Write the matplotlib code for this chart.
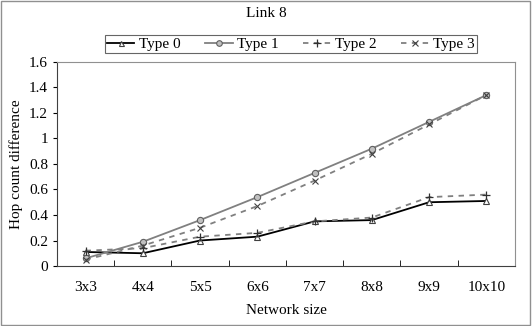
import matplotlib
matplotlib.use("Agg")
from matplotlib import pyplot as plt
from matplotlib.patches import Rectangle
import numpy as np

plt.rcParams['font.family'] = ['Liberation Serif', 'DejaVu Serif']

sizes = ["3x3", "4x4", "5x5", "6x6", "7x7", "8x8", "9x9", "10x10"]
type0 = [0.11, 0.10, 0.20, 0.23, 0.35, 0.36, 0.50, 0.51]
type1 = [0.06, 0.19, 0.36, 0.54, 0.73, 0.92, 1.13, 1.34]
type2 = [0.12, 0.14, 0.23, 0.26, 0.35, 0.38, 0.54, 0.56]
type3 = [0.05, 0.16, 0.30, 0.47, 0.67, 0.88, 1.11, 1.34]

fig = plt.figure(figsize=(5.32, 3.26), dpi=100)
ax = fig.add_axes([0.107, 0.184, 0.861, 0.626])

x = np.arange(len(sizes))
ax.plot(x, type0, color="black", lw=1.3, marker="^", ms=4, mfc="white", mec="#404040", mew=0.8, label="Type 0")
ax.plot(x, type1, color="#808080", lw=1.3, marker="o", ms=4.5, mfc="#c0c0c0", mec="#606060", mew=0.8, label="Type 1")
ax.plot(x, type2, color="#808080", lw=1.3, ls=(0, (3, 3)), marker="+", ms=6, mec="#303030", mew=0.9, label="Type 2")
ax.plot(x, type3, color="#808080", lw=1.3, ls=(0, (3, 3)), marker="x", ms=5, mec="#404040", mew=0.8, label="Type 3")

ax.set_xlim(-0.5, len(sizes) - 0.5)
ax.set_ylim(0, 1.6)
ax.set_yticks(np.arange(0, 1.61, 0.2))
ax.set_yticklabels(["0", "0.2", "0.4", "0.6", "0.8", "1", "1.2", "1.4", "1.6"])
ax.set_xticks(x)
ax.set_xticklabels(sizes)
ax.set_xticks(np.arange(0.5, len(sizes) - 0.5, 1), minor=True)
ax.tick_params(axis="x", which="major", length=0, pad=11)
ax.tick_params(axis="x", which="minor", length=4, direction="in")
ax.tick_params(axis="y", length=3, direction="out")
ax.tick_params(labelsize=11)
for s in ["top", "right"]:
    ax.spines[s].set_color("#909090")
for s in ["left", "bottom"]:
    ax.spines[s].set_color("#404040")

ax.set_xlabel("Network size", fontsize=11, labelpad=7)
ax.set_ylabel("Hop count difference", fontsize=11)
fig.text(0.5, 0.96, "Link 8", ha="center", va="center", fontsize=11)

leg = fig.legend(loc="center", bbox_to_anchor=(0.547, 0.865), ncol=4, fontsize=11,
                 frameon=True, fancybox=False, edgecolor="#404040", handlelength=1.8,
                 borderpad=0.15, columnspacing=1.6, handletextpad=0.3, markerscale=0.9)
leg.get_frame().set_linewidth(0.8)

fig.patches.append(Rectangle((0.002, 0.003), 0.995, 0.993, transform=fig.transFigure,
                             fill=False, edgecolor="#909090", lw=1))

fig.savefig("out.png", dpi=100)
